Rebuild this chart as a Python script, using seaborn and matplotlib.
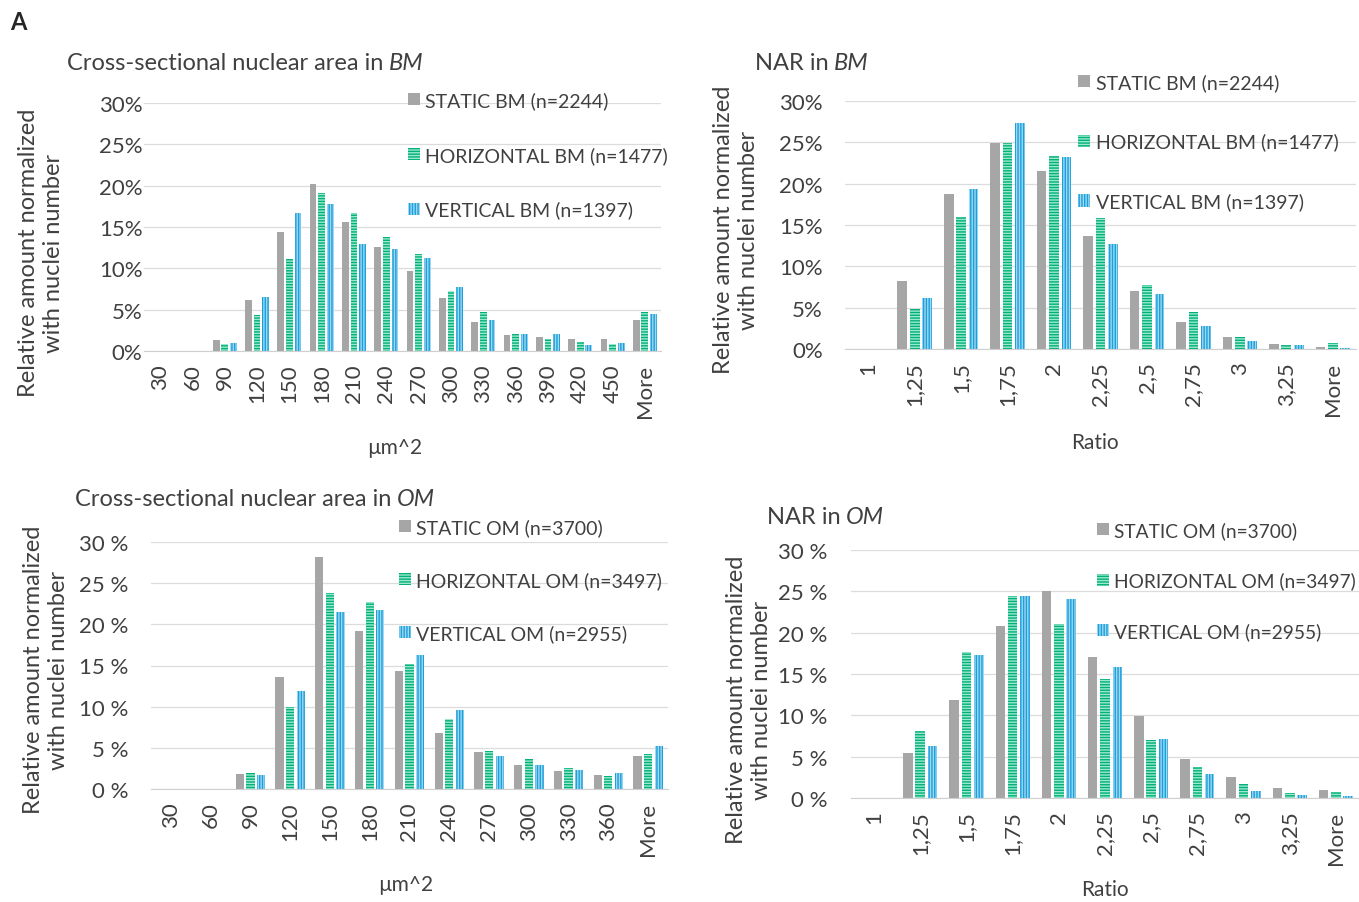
import matplotlib
matplotlib.use("Agg")
import matplotlib.pyplot as plt
import seaborn as sns
import pandas as pd
from matplotlib.ticker import FuncFormatter

sns.set_style("white")
plt.rcParams["font.family"] = ["Lato", "DejaVu Sans"]
plt.rcParams["hatch.linewidth"] = 1.0

# ---------------- data (percent of nuclei per bin) ----------------
area_bm_bins = ["30", "60", "90", "120", "150", "180", "210", "240", "270",
                "300", "330", "360", "390", "420", "450", "More"]
area_bm_static = [0, 0, 1.3, 6.2, 14.4, 20.2, 15.6, 12.6, 9.7, 6.4, 3.5, 1.9, 1.65, 1.45, 1.45, 3.75]
area_bm_horiz = [0, 0, 0.8, 4.4, 11.1, 19.1, 16.7, 13.8, 11.7, 7.3, 4.7, 2.0, 1.4, 1.1, 0.8, 4.75]
area_bm_vert = [0, 0, 1.0, 6.55, 16.7, 17.8, 12.9, 12.3, 11.2, 7.7, 3.7, 2.05, 2.05, 0.7, 1.0, 4.45]

nar_bm_bins = ["1", "1,25", "1,5", "1,75", "2", "2,25", "2,5", "2,75", "3", "3,25", "More"]
nar_bm_static = [0, 8.2, 18.8, 24.9, 21.5, 13.7, 7.0, 3.3, 1.4, 0.6, 0.3]
nar_bm_horiz = [0, 4.85, 16.0, 24.9, 23.4, 15.8, 7.8, 4.45, 1.45, 0.45, 0.7]
nar_bm_vert = [0, 6.2, 19.4, 27.3, 23.2, 12.65, 6.6, 2.8, 1.0, 0.45, 0.1]

area_om_bins = ["30", "60", "90", "120", "150", "180", "210", "240", "270",
                "300", "330", "360", "More"]
area_om_static = [0, 0, 1.8, 13.6, 28.2, 19.2, 14.3, 6.75, 4.55, 2.9, 2.2, 1.65, 3.95]
area_om_horiz = [0, 0, 1.95, 10.0, 23.8, 22.7, 15.2, 8.5, 4.6, 3.65, 2.55, 1.6, 4.3]
area_om_vert = [0, 0, 1.75, 11.9, 21.5, 21.7, 16.3, 9.6, 4.0, 2.9, 2.3, 2.0, 5.2]

nar_om_bins = ["1", "1,25", "1,5", "1,75", "2", "2,25", "2,5", "2,75", "3", "3,25", "More"]
nar_om_static = [0, 5.45, 11.8, 20.8, 25.0, 17.0, 9.95, 4.75, 2.6, 1.15, 0.95]
nar_om_horiz = [0, 8.1, 17.7, 24.4, 21.05, 14.4, 7.05, 3.75, 1.75, 0.65, 0.7]
nar_om_vert = [0, 6.25, 17.3, 24.45, 24.1, 15.9, 7.15, 2.95, 0.85, 0.4, 0.25]

W, H = 1359, 903
FS = 16
TXT = "#404040"

gray = "#a6a6a6"
green_face, green_line = "#9be8cb", "#00b07c"
blue_face, blue_line = "#9fd8f2", "#1aa0da"


def px(x, y):
    return x / W, 1 - y / H


def panel(rect, bins, series, labels, title, title_it, title_xy,
          xlabel, xlabel_xy, ylabel_x, ylabel_y, leg_xy, leg_space, pct_fmt, ypad, leg_fs=14):
    ax = fig.add_axes([rect[0] / W, 1 - rect[3] / H, (rect[1] - rect[0]) / W, (rect[3] - rect[2]) / H])
    frames = []
    for lab, vals in zip(labels, series):
        frames.append(pd.DataFrame({"bin": bins, "pct": vals, "group": lab}))
    df = pd.concat(frames, ignore_index=True)
    sns.barplot(data=df, x="bin", y="pct", hue="group", order=bins, hue_order=labels,
                palette=[gray, green_line, blue_line], width=0.8, gap=0.22,
                legend=False, ax=ax, linewidth=0)

    # fill patterns like the Excel original
    for i, cont in enumerate(ax.containers):
        for bar in cont:
            if i == 0:
                bar.set_facecolor(gray)
                bar.set_edgecolor(gray)
            elif i == 1:
                bar.set_facecolor(green_face)
                bar.set_edgecolor(green_line)
                bar.set_hatch("------")
            else:
                bar.set_facecolor(blue_face)
                bar.set_edgecolor(blue_line)
                bar.set_hatch("||||||")
            bar.set_linewidth(0)

    ax.set_ylim(0, 30)
    ax.set_yticks([0, 5, 10, 15, 20, 25, 30])
    ax.yaxis.set_major_formatter(FuncFormatter(lambda v, p: pct_fmt.format(v)))
    ax.grid(axis="y", color="#dcdcdc", linewidth=0.9)
    ax.set_axisbelow(True)
    for s in ["top", "right", "left"]:
        ax.spines[s].set_visible(False)
    ax.spines["bottom"].set_color("#d0d0d0")
    ax.tick_params(axis="x", length=0, labelsize=FS, rotation=90, pad=9, colors=TXT)
    ax.tick_params(axis="y", length=0, labelsize=FS, pad=ypad, colors=TXT)
    ax.set_xlabel("")
    ax.set_ylabel("")

    leg = fig.legend(handles=ax.containers, labels=labels, loc="upper left",
                     bbox_to_anchor=px(*leg_xy), frameon=False, fontsize=leg_fs,
                     labelspacing=leg_space, handlelength=0.6, handleheight=0.6,
                     handletextpad=0.3, borderpad=0, borderaxespad=0)
    for t in leg.get_texts():
        t.set_color(TXT)

    t1 = fig.text(*px(*title_xy), title, fontsize=17, va="center", ha="left", color=TXT)
    ax.annotate(title_it, xy=(1, 0), xycoords=t1, xytext=(4, 0), textcoords="offset points",
                fontsize=17, style="italic", va="bottom", ha="left", color=TXT)
    fig.text(*px(*xlabel_xy), xlabel, fontsize=15, ha="center", va="center", color=TXT)
    fig.text(*px(ylabel_x, ylabel_y), "Relative amount normalized\nwith nuclei number",
             fontsize=17, rotation=90, ha="center", va="center",
             multialignment="center", color=TXT, linespacing=1.2)
    return ax


fig = plt.figure(figsize=(W / 100, H / 100), dpi=100)
fig.text(*px(10, 22), "A", fontsize=17, fontweight="bold", ha="left", va="center")

labels_bm = ["STATIC BM (n=2244)", "HORIZONTAL BM (n=1477)", "VERTICAL BM (n=1397)"]
labels_om = ["STATIC OM (n=3700)", "HORIZONTAL OM (n=3497)", "VERTICAL OM (n=2955)"]

panel((144, 661, 104, 352), area_bm_bins, [area_bm_static, area_bm_horiz, area_bm_vert],
      labels_bm, "Cross-sectional nuclear area in", "BM", (67, 63),
      "µm^2", (395, 448), 41, 253, (408, 92), 1.9, "{:.0f}%", 1)

panel((845, 1356, 102, 350), nar_bm_bins, [nar_bm_static, nar_bm_horiz, nar_bm_vert],
      labels_bm, "NAR in", "BM", (755, 63),
      "Ratio", (1095, 443), 736, 230, (1078, 74), 2.15, "{:.0f}%", 16)

panel((151, 668, 543, 790), area_om_bins, [area_om_static, area_om_horiz, area_om_vert],
      labels_om, "Cross-sectional nuclear area in", "OM", (75, 500),
      "µm^2", (406, 885), 46, 670, (399, 519), 1.8, "{:.0f} %", 16)

panel((851, 1359, 551, 799), nar_om_bins, [nar_om_static, nar_om_horiz, nar_om_vert],
      labels_om, "NAR in", "OM", (767, 517),
      "Ratio", (1105, 890), 749, 700, (1097, 522), 1.7, "{:.0f} %", 17, leg_fs=13.8)

fig.savefig("out.png", dpi=100)
